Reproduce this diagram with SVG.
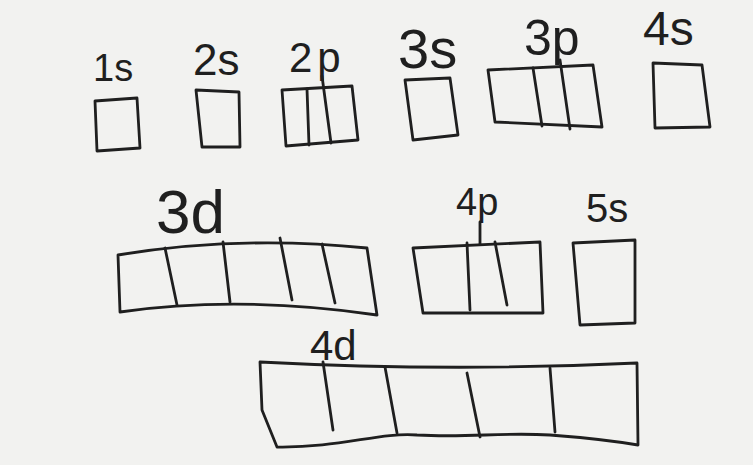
<svg xmlns="http://www.w3.org/2000/svg" width="753" height="465" viewBox="0 0 753 465">
  <style>
    .bx { fill: none; stroke: #1f1f1f; stroke-width: 2.8; stroke-linecap: round; stroke-linejoin: round; }
    .lb { font-family: "Liberation Sans", "DejaVu Sans", sans-serif; fill: #1f1f1f; }
  </style>
  <rect x="0" y="0" width="753" height="465" fill="#f2f2f0"/>

  <g id="orb-1s">
    <text class="lb" x="93" y="81" font-size="38">1s</text>
    <path class="bx" d="M95,101 L137,98 L140,148 L97,151 Z"/>
  </g>

  <g id="orb-2s">
    <text class="lb" x="193" y="75" font-size="44">2s</text>
    <path class="bx" d="M196,90 L239,92 L240,147 L202,147 Z"/>
  </g>

  <g id="orb-2p">
    <text class="lb" x="289" y="72" font-size="42" letter-spacing="5">2p</text>
    <path class="bx" d="M282,90 L352,86 L358,140 L286,146 Z"/>
    <path class="bx" d="M307,89 L309,145 M322,76 L331,143"/>
  </g>

  <g id="orb-3s">
    <text class="lb" x="398" y="68" font-size="56">3s</text>
    <path class="bx" d="M405,80 L450,78 L458,135 L413,140 Z"/>
  </g>

  <g id="orb-3p">
    <text class="lb" x="524" y="55" font-size="50">3p</text>
    <path class="bx" d="M488,70 L593,65 L602,127 L495,122 Z"/>
    <path class="bx" d="M533,68 L542,126 M560,60 L570,129"/>
  </g>

  <g id="orb-4s">
    <text class="lb" x="643" y="45" font-size="48">4s</text>
    <path class="bx" d="M653,63 L702,65 L710,127 L655,128 Z"/>
  </g>

  <g id="orb-3d">
    <text class="lb" x="156" y="233" font-size="62">3d</text>
    <path class="bx" d="M118,255 Q240,235 367,248 L377,315 Q240,295 120,312 Z"/>
    <path class="bx" d="M165,248 L177,305 M223,242 L230,302 M280,238 L292,300 M322,244 L335,303"/>
  </g>

  <g id="orb-4p">
    <text class="lb" x="456" y="215" font-size="38">4p</text>
    <path class="bx" d="M413,248 L540,242 L543,313 L423,313 Z"/>
    <path class="bx" d="M467,243 L470,310 M495,242 L507,305 M480,222 L480,244"/>
  </g>

  <g id="orb-5s">
    <text class="lb" x="586" y="222" font-size="40">5s</text>
    <path class="bx" d="M573,243 L635,240 L635,323 L580,325 Z"/>
  </g>

  <g id="orb-4d">
    <text class="lb" x="310" y="360" font-size="42">4d</text>
    <path class="bx" d="M260,362 Q450,372 637,363 L638,445 C620,442 590,438 550,435 C500,432 470,438 417,435 C380,432 340,448 277,447 L262,410 Z"/>
    <path class="bx" d="M323,362 L333,430 M385,367 L397,433 M467,373 L480,437 M550,368 L555,432"/>
  </g>
</svg>
